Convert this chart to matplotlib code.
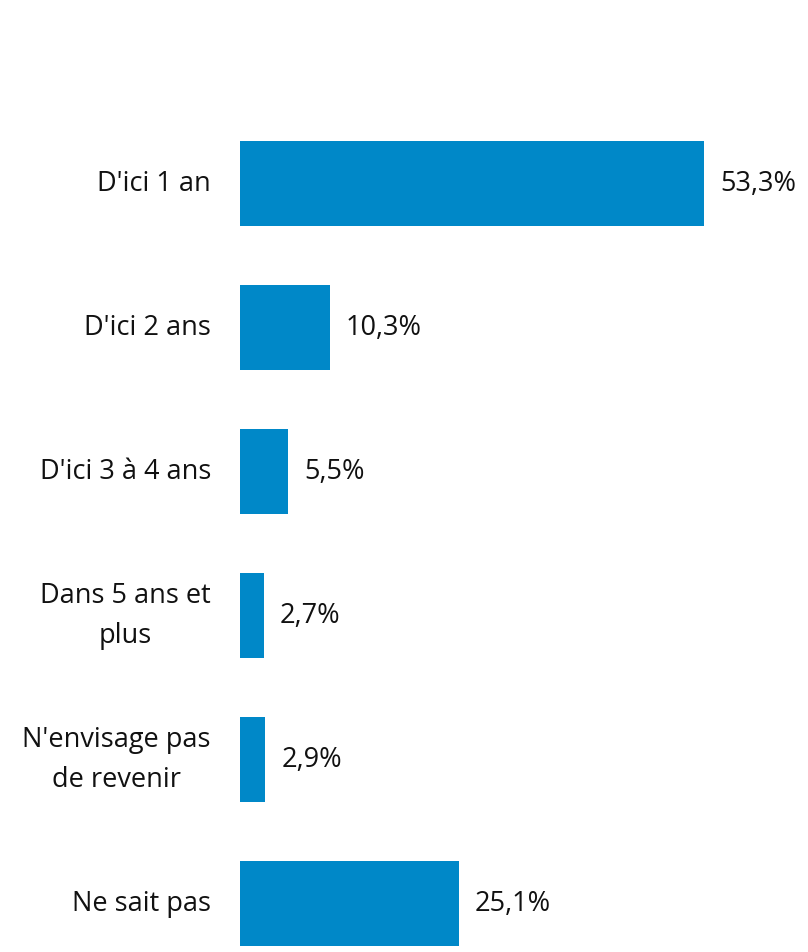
import matplotlib
matplotlib.use("Agg")
import matplotlib.pyplot as plt

categories = ["D'ici 1 an", "D'ici 2 ans", "D'ici 3 à 4 ans", "Dans 5 ans et\nplus",
              "N'envisage pas\nde revenir", "Ne sait pas"]
values = [53.3, 10.3, 5.5, 2.7, 2.9, 25.1]
value_labels = ["53,3%", "10,3%", "5,5%", "2,7%", "2,9%", "25,1%"]

plt.rcParams['font.family'] = ['Open Sans', 'DejaVu Sans']

W, H = 808, 953
fig = plt.figure(figsize=(W / 100, H / 100), dpi=100)
ax = fig.add_axes([240 / W, 0, 1 - 240 / W, 1])
ax.set_facecolor('none')

px_per_unit = 464 / 53.3
ax.set_xlim(0, (W - 240) / px_per_unit)
ax.set_ylim((H - 184) / 144, -184 / 144)

ypos = list(range(len(categories)))
ax.barh(ypos, values, height=85 / 144, color='#0088c8', align='center')

for y, v, lab in zip(ypos, values, value_labels):
    ax.text(v + 16 / px_per_unit, y, lab, va='center', ha='left', fontsize=19.5, color='#111111')

for y, c in zip(ypos, categories):
    ax.text(-29 / px_per_unit, y, c, va='center', ha='right', fontsize=19.5, color='#111111',
            linespacing=1.6, multialignment='center', clip_on=False)

ax.axis('off')
fig.savefig('out.png', dpi=100)
